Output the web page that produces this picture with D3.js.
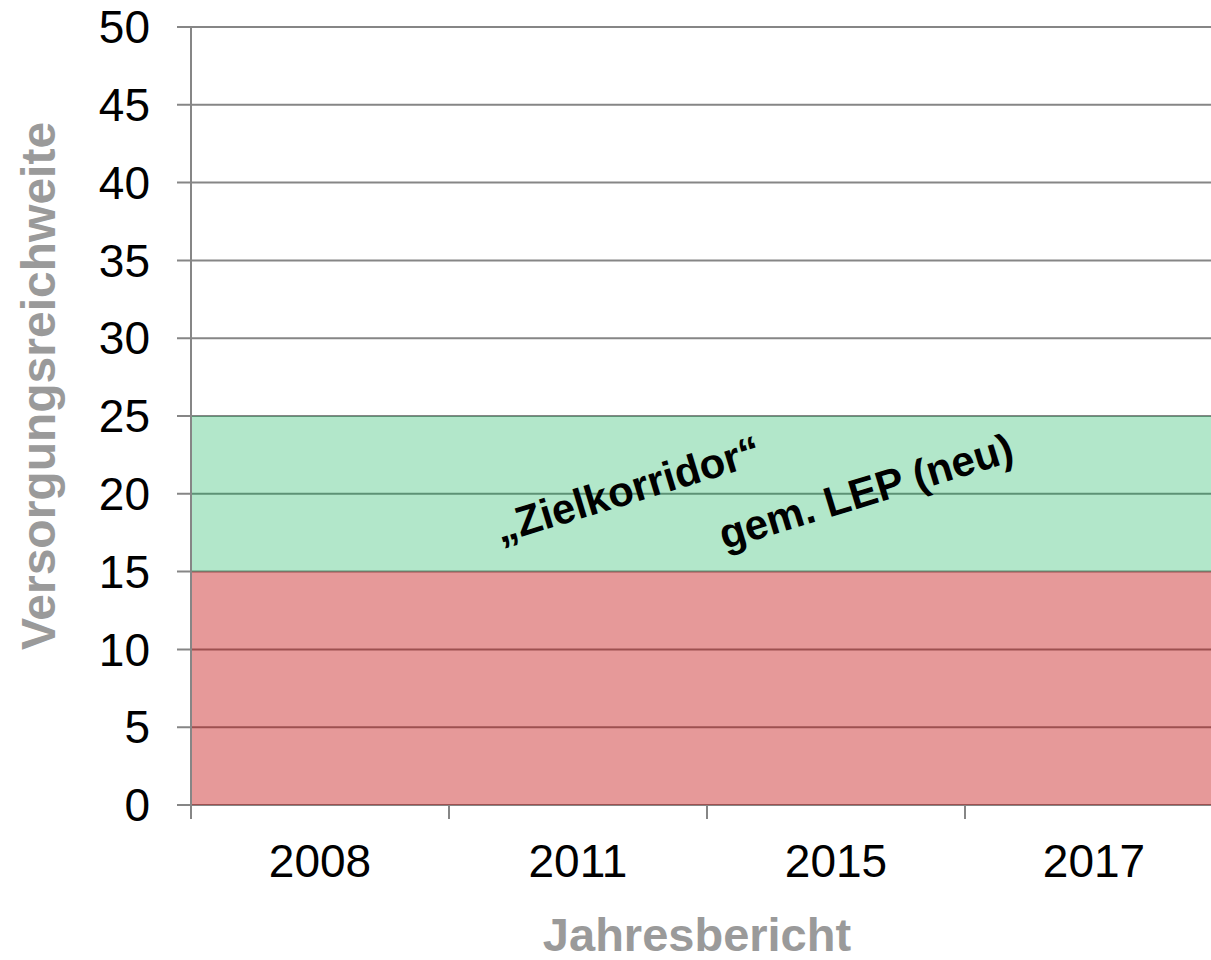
<!DOCTYPE html>
<html>
<head>
<meta charset="utf-8">
<script src="https://cdn.jsdelivr.net/npm/d3@7"></script>
<style>
  html, body { margin: 0; padding: 0; background: #fff; overflow: hidden; }
  svg { display: block; font-family: Arial, "Liberation Sans", sans-serif; }
</style>
</head>
<body>
<svg id="chart" width="1211" height="960"></svg>
<script>
// ---- data ----
const categories = ["2008", "2011", "2015", "2017"];
const lowerBand = [15, 15, 15, 15];      // red area (below corridor)
const corridorBand = [10, 10, 10, 10];   // green area (target corridor, stacked on top)
const yTicks = [0, 5, 10, 15, 20, 25, 30, 35, 40, 45, 50];
const yTitle = "Versorgungsreichweite";
const xTitle = "Jahresbericht";
const annotation1 = "\u201EZielkorridor\u201C";
const annotation2 = "gem. LEP (neu)";

// ---- layout ----
const svg = d3.select("#chart");
const plotLeft = 191, plotRight = 1223, plotTop = 27, plotBottom = 805;

const x = d3.scaleBand().domain(categories).range([plotLeft, plotRight]);
const xp = d3.scalePoint().domain(categories).range([plotLeft + 1, plotRight]);
const y = d3.scaleLinear().domain([0, 50]).range([plotBottom, plotTop]);

// gridlines (under areas)
svg.append("g")
  .selectAll("line")
  .data(yTicks)
  .join("line")
  .attr("x1", plotLeft - 14)
  .attr("x2", 1211)
  .attr("y1", d => y(d))
  .attr("y2", d => y(d))
  .attr("stroke", "#868686")
  .attr("stroke-width", 2);

// stacked areas
const rows = categories.map((c, i) => ({ cat: c, low: lowerBand[i], corr: corridorBand[i] }));
const stack = d3.stack().keys(["low", "corr"])(rows);
const fills = { low: "rgba(192,0,0,0.4)", corr: "rgba(0,176,80,0.3)" };
const area = d3.area()
  .x(d => xp(d.data.cat))
  .y0(d => y(d[0]))
  .y1(d => y(d[1]));

svg.append("g")
  .selectAll("path")
  .data(stack)
  .join("path")
  .attr("d", area)
  .attr("fill", d => fills[d.key]);

// y axis line
svg.append("line")
  .attr("x1", plotLeft).attr("x2", plotLeft)
  .attr("y1", plotTop).attr("y2", plotBottom + 14)
  .attr("stroke", "#868686").attr("stroke-width", 2);

// x tick marks at band boundaries
svg.append("g")
  .selectAll("line")
  .data(categories)
  .join("line")
  .attr("x1", d => x(d)).attr("x2", d => x(d))
  .attr("y1", plotBottom).attr("y2", plotBottom + 14)
  .attr("stroke", "#868686").attr("stroke-width", 2);

// y tick labels
svg.append("g")
  .selectAll("text")
  .data(yTicks)
  .join("text")
  .attr("x", 150)
  .attr("y", d => y(d))
  .attr("dy", "0.35em")
  .attr("text-anchor", "end")
  .attr("font-size", 46)
  .attr("fill", "#000")
  .text(d => d);

// x tick labels
svg.append("g")
  .selectAll("text")
  .data(categories)
  .join("text")
  .attr("x", d => x(d) + x.bandwidth() / 2)
  .attr("y", 877)
  .attr("text-anchor", "middle")
  .attr("font-size", 46)
  .attr("fill", "#000")
  .text(d => d);

// axis titles
svg.append("text")
  .attr("transform", "translate(55,386) rotate(-90)")
  .attr("text-anchor", "middle")
  .attr("font-size", 48)
  .attr("font-weight", "bold")
  .attr("fill", "#9a9a9a")
  .text(yTitle);

svg.append("text")
  .attr("x", 697)
  .attr("y", 951)
  .attr("text-anchor", "middle")
  .attr("font-size", 47)
  .attr("font-weight", "bold")
  .attr("fill", "#9a9a9a")
  .text(xTitle);

// annotations
svg.append("text")
  .attr("transform", "translate(632,503) rotate(-17)")
  .attr("text-anchor", "middle")
  .attr("font-size", 42)
  .attr("font-weight", "bold")
  .attr("fill", "#000")
  .text(annotation1);

svg.append("text")
  .attr("transform", "translate(870,505) rotate(-17)")
  .attr("text-anchor", "middle")
  .attr("font-size", 42)
  .attr("font-weight", "bold")
  .attr("fill", "#000")
  .text(annotation2);
</script>
</body>
</html>
